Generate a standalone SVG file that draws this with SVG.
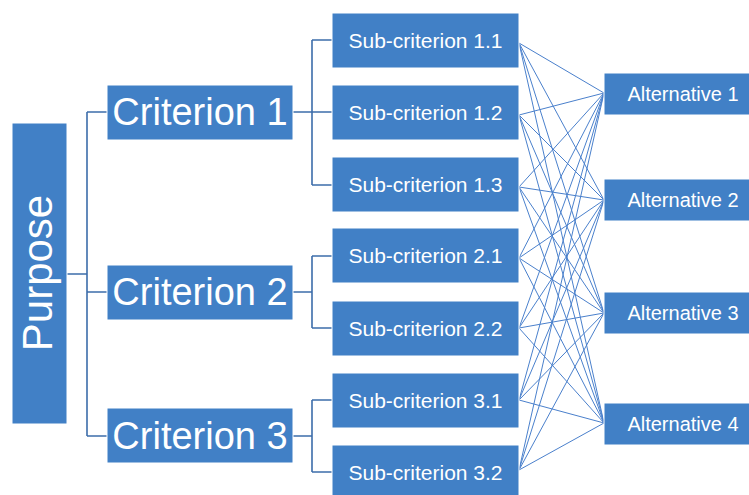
<svg xmlns="http://www.w3.org/2000/svg" width="749" height="495" viewBox="0 0 749 495">
<style>
.box{fill:#4180C6;stroke:#ffffff;stroke-width:1}
.t{font-family:"Liberation Sans",Arial,sans-serif;fill:#ffffff;text-anchor:middle}
.big{font-size:38px}
.sub{font-size:21px}
.alt{font-size:20px}
.tree{fill:none;stroke:#3C6DAA;stroke-width:1.6}
.fan{stroke:#4A80CC;stroke-width:1}
</style>
<rect width="749" height="495" fill="#ffffff"/>
<g id="connectors">
<path class="tree" d="M67,274H87 M87,112V436 M87,112H107 M87,292H107 M87,436H107"/>
<path class="tree" d="M293,112H332 M312,40V185 M312,40H332 M312,185H332"/>
<path class="tree" d="M293,292H312 M312,256V328 M312,256H332 M312,328H332"/>
<path class="tree" d="M293,436H312 M312,400V472 M312,400H332 M312,472H332"/>
<g class="fan">
<line x1="519" y1="43" x2="604" y2="93"/><line x1="519" y1="43" x2="604" y2="200"/><line x1="519" y1="43" x2="604" y2="313"/><line x1="519" y1="43" x2="604" y2="423"/>
<line x1="519" y1="115" x2="604" y2="93"/><line x1="519" y1="115" x2="604" y2="200"/><line x1="519" y1="115" x2="604" y2="313"/><line x1="519" y1="115" x2="604" y2="423"/>
<line x1="519" y1="187" x2="604" y2="93"/><line x1="519" y1="187" x2="604" y2="200"/><line x1="519" y1="187" x2="604" y2="313"/><line x1="519" y1="187" x2="604" y2="423"/>
<line x1="519" y1="258" x2="604" y2="93"/><line x1="519" y1="258" x2="604" y2="200"/><line x1="519" y1="258" x2="604" y2="313"/><line x1="519" y1="258" x2="604" y2="423"/>
<line x1="519" y1="328" x2="604" y2="93"/><line x1="519" y1="328" x2="604" y2="200"/><line x1="519" y1="328" x2="604" y2="313"/><line x1="519" y1="328" x2="604" y2="423"/>
<line x1="519" y1="400" x2="604" y2="93"/><line x1="519" y1="400" x2="604" y2="200"/><line x1="519" y1="400" x2="604" y2="313"/><line x1="519" y1="400" x2="604" y2="423"/>
<line x1="519" y1="470" x2="604" y2="93"/><line x1="519" y1="470" x2="604" y2="200"/><line x1="519" y1="470" x2="604" y2="313"/><line x1="519" y1="470" x2="604" y2="423"/>
</g>
</g>
<g id="purpose"><rect class="box" x="12" y="123" width="55" height="301"/><text class="t" font-size="42" transform="translate(52,273) rotate(-90)">Purpose</text></g>
<g id="criterion1"><rect class="box" x="107" y="85" width="186" height="55"/><text class="t big" x="200" y="125">Criterion 1</text></g>
<g id="criterion2"><rect class="box" x="107" y="265" width="186" height="55"/><text class="t big" x="200" y="305">Criterion 2</text></g>
<g id="criterion3"><rect class="box" x="107" y="408" width="186" height="55"/><text class="t big" x="200" y="449">Criterion 3</text></g>
<g id="sub11"><rect class="box" x="332" y="13" width="187" height="55"/><text class="t sub" x="425.5" y="48">Sub-criterion 1.1</text></g>
<g id="sub12"><rect class="box" x="332" y="85" width="187" height="55"/><text class="t sub" x="425.5" y="120">Sub-criterion 1.2</text></g>
<g id="sub13"><rect class="box" x="332" y="157" width="187" height="55"/><text class="t sub" x="425.5" y="192">Sub-criterion 1.3</text></g>
<g id="sub21"><rect class="box" x="332" y="228" width="187" height="55"/><text class="t sub" x="425.5" y="263">Sub-criterion 2.1</text></g>
<g id="sub22"><rect class="box" x="332" y="301" width="187" height="55"/><text class="t sub" x="425.5" y="336">Sub-criterion 2.2</text></g>
<g id="sub31"><rect class="box" x="332" y="373" width="187" height="55"/><text class="t sub" x="425.5" y="408">Sub-criterion 3.1</text></g>
<g id="sub32"><rect class="box" x="332" y="445" width="187" height="55"/><text class="t sub" x="425.5" y="480">Sub-criterion 3.2</text></g>
<g id="alt1"><rect class="box" x="604" y="73" width="160" height="42"/><text class="t alt" x="683" y="101">Alternative 1</text></g>
<g id="alt2"><rect class="box" x="604" y="179" width="160" height="42"/><text class="t alt" x="683" y="207">Alternative 2</text></g>
<g id="alt3"><rect class="box" x="604" y="292" width="160" height="42"/><text class="t alt" x="683" y="320">Alternative 3</text></g>
<g id="alt4"><rect class="box" x="604" y="403" width="160" height="42"/><text class="t alt" x="683" y="431">Alternative 4</text></g>
</svg>
